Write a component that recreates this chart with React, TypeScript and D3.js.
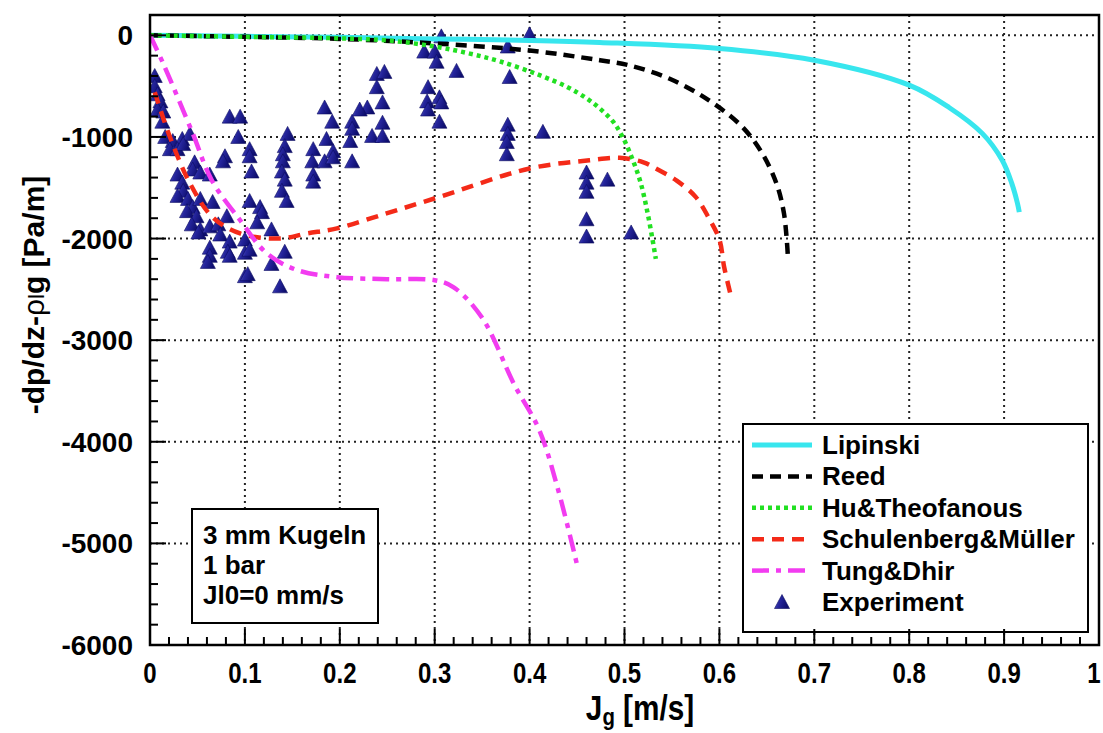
import React from "react";
import * as d3 from "d3";

// ---- data ----
const xTickValues = [0, 0.1, 0.2, 0.3, 0.4, 0.5, 0.6, 0.7, 0.8, 0.9, 1];
const xTickLabels = ["0", "0.1", "0.2", "0.3", "0.4", "0.5", "0.6", "0.7", "0.8", "0.9", "1"];
const yTickValues = [0, -1000, -2000, -3000, -4000, -5000, -6000];
const yTickLabels = ["0", "-1000", "-2000", "-3000", "-4000", "-5000", "-6000"];

const lipinskiX = [0, 0.05, 0.1, 0.2, 0.3, 0.4, 0.474, 0.6, 0.7, 0.8, 0.842, 0.877, 0.898, 0.908, 0.914, 0.916];
const lipinskiY = [0, -5, -10, -20, -35, -50, -70, -130, -245, -490, -710, -965, -1230, -1455, -1650, -1740];

const reedX = [0, 0.1, 0.2, 0.3, 0.4, 0.474, 0.505, 0.547, 0.589, 0.624, 0.645, 0.66, 0.668, 0.672];
const reedY = [0, -15, -35, -80, -150, -245, -295, -425, -640, -900, -1160, -1455, -1750, -2150];

const huX = [0, 0.1, 0.2, 0.25, 0.3, 0.337, 0.37, 0.41, 0.44, 0.46, 0.474, 0.488, 0.498, 0.508, 0.517, 0.525, 0.533];
const huY = [0, -15, -30, -50, -110, -180, -260, -390, -510, -620, -720, -850, -1000, -1210, -1450, -1780, -2200];

const schulX = [0.005, 0.021, 0.042, 0.066, 0.095, 0.137, 0.165, 0.197, 0.25, 0.305, 0.4, 0.463, 0.495, 0.52, 0.535, 0.555, 0.575, 0.589, 0.6, 0.605, 0.612];
const schulY = [-560, -1000, -1455, -1790, -1950, -2000, -1950, -1900, -1750, -1590, -1310, -1230, -1205, -1250, -1320, -1430, -1590, -1800, -2010, -2280, -2560];

const tungX = [0, 0.014, 0.045, 0.065, 0.095, 0.123, 0.155, 0.197, 0.25, 0.3, 0.32, 0.35, 0.384, 0.41, 0.43, 0.45];
const tungY = [0, -280, -965, -1425, -1820, -2145, -2310, -2380, -2400, -2410, -2480, -2780, -3440, -3880, -4470, -5210];

const expX = [
  0.005, 0.005, 0.008, 0.011, 0.008, 0.014, 0.013, 0.016, 0.024, 0.034,
  0.042, 0.021, 0.029, 0.035, 0.047, 0.029, 0.034, 0.045, 0.053, 0.063,
  0.035, 0.029, 0.04, 0.045, 0.053, 0.039, 0.049, 0.066, 0.044, 0.053,
  0.063, 0.072, 0.081, 0.051, 0.074, 0.084, 0.082, 0.063, 0.063, 0.061,
  0.084, 0.1, 0.1, 0.1,
  0.084, 0.095, 0.093, 0.079, 0.077,
  0.105, 0.105, 0.107, 0.105, 0.116, 0.118, 0.113, 0.128, 0.128, 0.142, 0.103, 0.137, 0.105,
  0.145, 0.142, 0.14, 0.14, 0.139, 0.142, 0.139, 0.144,
  0.172, 0.171, 0.172, 0.172,
  0.184, 0.192, 0.186, 0.193, 0.184, 0.193,
  0.239, 0.247, 0.239, 0.245, 0.229, 0.221, 0.213, 0.213, 0.211, 0.213, 0.234, 0.245, 0.245,
  0.289, 0.3, 0.302, 0.323, 0.293, 0.292, 0.293, 0.305, 0.307, 0.305, 0.307,
  0.377, 0.379, 0.377, 0.377, 0.376, 0.376, 0.414, 0.4,
  0.46, 0.46, 0.46, 0.482, 0.46, 0.46, 0.507,
];
const expY = [
  -410, -510, -590, -660, -740, -760, -860, -1010, -1050, -1030,
  -980, -1130, -1130, -1080, -1260, -1380, -1460, -1330, -1360, -1380,
  -1540, -1590, -1620, -1700, -1620, -1740, -1790, -1650, -1870, -1920,
  -1890, -1870, -1790, -1950, -1970, -2040, -2140, -2100, -2180, -2240,
  -2180, -2020, -2150, -2380,
  -810, -810, -1010, -1200, -1250,
  -1130, -1200, -1350, -1640, -1700, -1750, -1850, -1920, -2260, -2140, -2360, -2480, -2120,
  -980, -1100, -1180, -1250, -1350, -1430, -1540, -1640,
  -1130, -1250, -1380, -1450,
  -720, -860, -1030, -1150, -1250, -1210,
  -390, -370, -520, -670, -720, -740, -860, -930, -1050, -1250, -1000, -870, -1000,
  -170, -170, -270, -360, -520, -660, -740, -620, -670, -860, -20,
  -120, -420, -890, -980, -1060, -1180, -960, 0,
  -1360, -1460, -1550, -1430, -1820, -1990, -1950,
];

const legendLabels = ["Lipinski", "Reed", "Hu&Theofanous", "Schulenberg&Müller", "Tung&Dhir", "Experiment"];
const infoLines = ["3 mm Kugeln", "1 bar", "Jl0=0 mm/s"];

// ---- layout ----
const W = 1103, H = 733;
const L = 150, R = 1099, T = 15, B = 645;
const x = d3.scaleLinear().domain([0, 1]).range([L, R]);
const y = d3.scaleLinear().domain([-6000, 200]).range([B, T]);

const FONT = "'Liberation Sans', Arial, Helvetica, sans-serif";

const styles = [
  { color: "#38e6ee", dash: "", width: 5 },
  { color: "#000000", dash: "11,7", width: 4.5 },
  { color: "#22e022", dash: "4,4", width: 4.5 },
  { color: "#f42a18", dash: "12,8", width: 4.5 },
  { color: "#f23cf0", dash: "17,7,5,7", width: 4.5 },
];

const curves = [
  { xs: lipinskiX, ys: lipinskiY },
  { xs: reedX, ys: reedY },
  { xs: huX, ys: huY },
  { xs: schulX, ys: schulY },
  { xs: tungX, ys: tungY },
];

const line = d3
  .line<[number, number]>()
  .x((d) => x(d[0]))
  .y((d) => y(d[1]))
  .curve(d3.curveCatmullRom.alpha(0.5));

const triPath = "M0,-8.5 L7.5,5.5 L-7.5,5.5 Z";

export default function App() {
  const xMinor = d3.range(0, 1.0001, 0.02);
  const yMinor = d3.range(-6000, 200, 200);
  return (
    <svg width={W} height={H} style={{ position: "absolute", left: 0, top: 0, background: "#fff" }}>
      <defs>
        <linearGradient id="tri" x1="0" y1="0" x2="1" y2="0.3">
          <stop offset="0" stopColor="#6a6ad0" />
          <stop offset="0.45" stopColor="#26269e" />
          <stop offset="1" stopColor="#0e0e6e" />
        </linearGradient>
        <clipPath id="plot">
          <rect x={L} y={T} width={R - L} height={B - T} />
        </clipPath>
      </defs>
      <rect x={0} y={0} width={W} height={H} fill="#fff" />

      {/* grid */}
      <g stroke="#222" strokeWidth={2} strokeDasharray="2,4">
        {xTickValues.slice(1, -1).map((v) => (
          <line key={"gx" + v} x1={x(v)} x2={x(v)} y1={T} y2={B} />
        ))}
        {yTickValues.slice(0, -1).map((v) => (
          <line key={"gy" + v} x1={L} x2={R} y1={y(v)} y2={y(v)} />
        ))}
      </g>

      {/* experiment */}
      <g clipPath="url(#plot)">
        {expX.map((vx, i) => (
          <path
            key={"e" + i}
            d={triPath}
            transform={`translate(${x(vx)},${y(expY[i])})`}
            fill="url(#tri)"
            stroke="#0a0a60"
            strokeWidth={0.6}
          />
        ))}
      </g>

      {/* curves */}
      <g clipPath="url(#plot)" fill="none">
        {curves.map((c, i) => (
          <path
            key={"c" + i}
            d={line(d3.zip(c.xs, c.ys) as [number, number][]) || ""}
            stroke={styles[i].color}
            strokeWidth={styles[i].width}
            strokeDasharray={styles[i].dash}
            strokeLinecap="butt"
          />
        ))}
      </g>

      {/* info box */}
      <rect x={192} y={509} width={186} height={114} fill="#fff" stroke="#000" strokeWidth={2} />
      {infoLines.map((t, i) => (
        <text key={"info" + i} x={203} y={544 + i * 30} fontFamily={FONT} fontWeight="bold" fontSize={26} fill="#000">
          {t}
        </text>
      ))}

      {/* legend */}
      <rect x={743} y={424} width={345} height={208} fill="#fff" stroke="#000" strokeWidth={2} />
      {legendLabels.map((t, i) => {
        const cy = 445 + i * 31.4;
        return (
          <g key={"lg" + i}>
            {i < 5 ? (
              <line
                x1={752}
                x2={812}
                y1={cy}
                y2={cy}
                stroke={styles[i].color}
                strokeWidth={styles[i].width}
                strokeDasharray={styles[i].dash}
              />
            ) : (
              <path d={triPath} transform={`translate(782,${cy + 1})`} fill="url(#tri)" stroke="#0a0a60" strokeWidth={0.6} />
            )}
            <text x={822} y={cy + 9} fontFamily={FONT} fontWeight="bold" fontSize={26} fill="#000">
              {t}
            </text>
          </g>
        );
      })}

      {/* frame */}
      <rect x={L} y={T} width={R - L} height={B - T} fill="none" stroke="#000" strokeWidth={2.5} />

      {/* ticks */}
      <g stroke="#000" strokeWidth={2}>
        {xMinor.map((v, i) => (
          <line key={"xm" + i} x1={x(v)} x2={x(v)} y1={B} y2={B - (i % 5 === 0 ? 16 : 8)} />
        ))}
        {yMinor.map((v, i) => (
          <line key={"ym" + i} x1={L} x2={L + (i % 5 === 0 ? 16 : 8)} y1={y(v)} y2={y(v)} />
        ))}
      </g>

      {/* tick labels */}
      {xTickValues.map((v, i) => (
        <text
          key={"xl" + i}
          transform={`translate(${Math.min(x(v), 1094)},683) scale(0.8,1)`}
          textAnchor="middle"
          fontFamily={FONT}
          fontWeight="bold"
          fontSize={30}
          fill="#000"
        >
          {xTickLabels[i]}
        </text>
      ))}
      {yTickValues.map((v, i) => (
        <text
          key={"yl" + i}
          x={133}
          y={y(v) + 10}
          textAnchor="end"
          fontFamily={FONT}
          fontWeight="bold"
          fontSize={28}
          fill="#000"
        >
          {yTickLabels[i]}
        </text>
      ))}

      {/* axis titles */}
      <text
        transform="translate(640,720) scale(0.85,1)"
        textAnchor="middle"
        fontFamily={FONT}
        fontWeight="bold"
        fontSize={35}
        fill="#000"
      >
        J<tspan fontSize={24} dy={5}>g</tspan>
        <tspan dy={-5}> [m/s]</tspan>
      </text>
      <text
        transform="translate(44,295) rotate(-90)"
        textAnchor="middle"
        fontFamily={FONT}
        fontWeight="bold"
        fontSize={30}
        fill="#000"
      >
        -dp/dz-<tspan fontWeight="normal">ρ</tspan>
        <tspan fontSize={22} fontWeight="normal">l</tspan>g [Pa/m]
      </text>
    </svg>
  );
}
